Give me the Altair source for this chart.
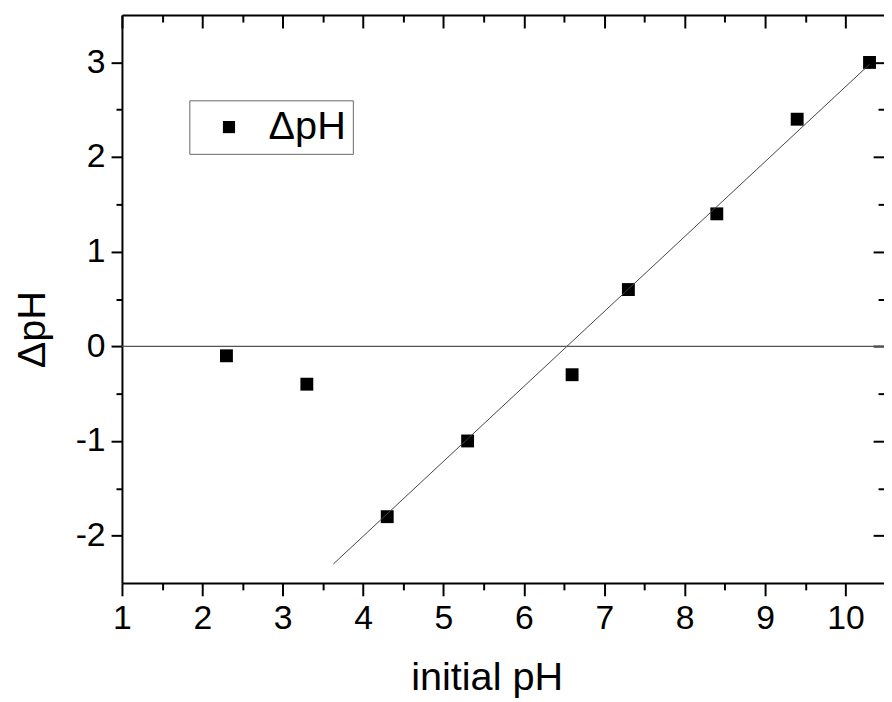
import altair as alt
import pandas as pd

# Data
initial_ph = [2.3, 3.3, 4.3, 5.3, 6.6, 7.3, 8.4, 9.4, 10.3]
delta_ph = [-0.1, -0.4, -1.8, -1.0, -0.3, 0.6, 1.4, 2.4, 3.0]
fit_x = [3.63, 10.3]
fit_y = [-2.3, 2.98]
zero_x = [1.0, 10.48]
zero_y = [0.0, 0.0]
x_major = [1, 2, 3, 4, 5, 6, 7, 8, 9, 10]
x_minor = [1.5, 2.5, 3.5, 4.5, 5.5, 6.5, 7.5, 8.5, 9.5]
y_major = [-2, -1, 0, 1, 2, 3]
y_minor = [-1.5, -0.5, 0.5, 1.5, 2.5]

FONT = "Liberation Sans"
X_DOMAIN = [1, 10.48]
Y_DOMAIN = [-2.5, 3.5]
LABEL_EXPR = "datum.value < 0 ? '-' + abs(datum.value) : '' + datum.value"

pts = pd.DataFrame({"x": initial_ph, "y": delta_ph, "series": ["ΔpH"] * len(initial_ph)})
fit = pd.DataFrame({"x": fit_x, "y": fit_y})
zero = pd.DataFrame({"x": zero_x, "y": zero_y})


def xs():
    return alt.Scale(domain=X_DOMAIN, nice=False, zero=False)


def ys():
    return alt.Scale(domain=Y_DOMAIN, nice=False, zero=False)


def blank_axis(orient, values, size, offset=0):
    return alt.Axis(orient=orient, values=values, tickSize=size, tickWidth=2,
                    tickColor="black", labels=False, domain=False, grid=False,
                    title=None, offset=offset)


bottom_major = alt.Axis(orient="bottom", values=x_major, tickSize=13, tickWidth=2,
                        tickColor="black", domain=True, domainWidth=2, domainColor="black",
                        labelFontSize=34, labelFont=FONT, labelColor="black", labelPadding=6,
                        labelFlush=False, labelExpr=LABEL_EXPR, grid=False,
                        title="initial pH", titleFont=FONT, titleFontSize=40,
                        titleFontWeight="normal", titleColor="black",
                        titleX=368, titleY=108, titleAlign="center",
                        titleBaseline="alphabetic")
left_major = alt.Axis(orient="left", values=y_major, tickSize=11, tickWidth=2,
                      tickColor="black", domain=True, domainWidth=2, domainColor="black",
                      labelFontSize=34, labelFont=FONT, labelColor="black", labelPadding=6,
                      labelFlush=False, labelExpr=LABEL_EXPR, grid=False,
                      title="ΔpH", titleFont=FONT, titleFontSize=40,
                      titleFontWeight="normal", titleColor="black",
                      titleX=-90, titleY=317, titleAngle=270, titleAlign="center",
                      titleBaseline="middle")

points = alt.Chart(pts).mark_point(shape="square", filled=True, color="black",
                                   size=169, opacity=1).encode(
    x=alt.X("x:Q", scale=xs(), axis=bottom_major),
    y=alt.Y("y:Q", scale=ys(), axis=left_major),
    shape=alt.Shape("series:N", scale=alt.Scale(range=["square"]),
                    legend=alt.Legend(title=None, orient="none", legendX=68, legendY=86,
                                      padding=7, symbolOffset=13, labelOffset=20,
                                      labelFontSize=40, labelFont=FONT, labelColor="black",
                                      symbolSize=150, symbolType="square",
                                      symbolFillColor="black", symbolStrokeWidth=0,
                                      strokeColor="#666666", fillColor="white")),
)

fit_line = alt.Chart(fit).mark_line(color="#444444", strokeWidth=1).encode(
    x=alt.X("x:Q", scale=xs(), axis=blank_axis("bottom", x_minor, 7)),
    y=alt.Y("y:Q", scale=ys(), axis=blank_axis("left", y_minor, 6)),
)

zero_line = alt.Chart(zero).mark_line(color="#555555", strokeWidth=1.2).encode(
    x=alt.X("x:Q", scale=xs(), axis=blank_axis("top", x_major, 13, offset=-13)),
    y=alt.Y("y:Q", scale=ys(), axis=blank_axis("right", y_major, 11, offset=-11)),
)

minor_top_right = alt.Chart(pts).mark_point(opacity=0).encode(
    x=alt.X("x:Q", scale=xs(), axis=blank_axis("top", x_minor, 7, offset=-7)),
    y=alt.Y("y:Q", scale=ys(), axis=blank_axis("right", y_minor, 6, offset=-6)),
)

top_frame = alt.Chart(pts).mark_point(opacity=0).encode(
    x=alt.X("x:Q", scale=xs(),
            axis=alt.Axis(orient="top", ticks=False, labels=False, domain=True,
                          domainWidth=2, domainColor="black", grid=False, title=None)),
    y=alt.Y("y:Q", scale=ys(), axis=None),
)

chart = alt.layer(points, fit_line, zero_line, minor_top_right, top_frame).resolve_axis(
    x="independent", y="independent"
).resolve_scale(x="shared", y="shared").properties(
    width=769, height=573,
    autosize=alt.AutoSizeParams(type="none"),
    padding={"left": 115, "top": 4, "right": 0, "bottom": 117},
    background="white",
).configure_view(stroke=None)

chart.save("out.html", embed_options={"renderer": "svg", "actions": False})
